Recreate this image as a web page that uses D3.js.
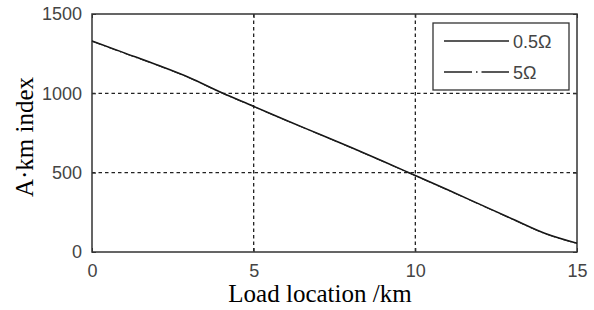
<!DOCTYPE html>
<html>
<head>
<meta charset="utf-8">
<script src="https://cdn.jsdelivr.net/npm/d3@7"></script>
<style>
  body { margin: 0; background: #fff; }
  svg { display: block; }
</style>
</head>
<body>
<div id="chart"></div>
<script>
// Load location (km) vs A·km index
const xs = [0, 1, 2, 3, 4, 5, 6, 7, 8, 9, 10, 11, 12, 13, 14, 15];
const seriesA = [1330, 1255, 1180, 1100, 1005, 918, 830, 745, 660, 572, 482, 392, 300, 208, 118, 55];
const seriesB = [1328, 1252, 1178, 1098, 1003, 916, 829, 744, 658, 570, 480, 390, 298, 206, 116, 53];
const xTicks = [0, 5, 10, 15];
const yTicks = [0, 500, 1000, 1500];
const legendLabels = ['0.5\u03A9', '5\u03A9'];

const width = 594, height = 310;
const margin = { top: 14, right: 17, bottom: 58, left: 92 };
const innerW = width - margin.left - margin.right;
const innerH = height - margin.top - margin.bottom;

const svg = d3.select('#chart').append('svg')
  .attr('width', width)
  .attr('height', height);

const g = svg.append('g').attr('transform', `translate(${margin.left},${margin.top})`);

const x = d3.scaleLinear().domain([0, 15]).range([0, innerW]);
const y = d3.scaleLinear().domain([0, 1500]).range([innerH, 0]);

// Grid lines
g.append('g').selectAll('line')
  .data(xTicks.filter(t => t > 0 && t < 15))
  .join('line')
  .attr('x1', d => x(d)).attr('x2', d => x(d))
  .attr('y1', 0).attr('y2', innerH)
  .attr('stroke', '#222').attr('stroke-width', 1.3)
  .attr('stroke-dasharray', '3.5,3');

g.append('g').selectAll('line')
  .data(yTicks.filter(t => t > 0 && t < 1500))
  .join('line')
  .attr('x1', 0).attr('x2', innerW)
  .attr('y1', d => y(d)).attr('y2', d => y(d))
  .attr('stroke', '#222').attr('stroke-width', 1.3)
  .attr('stroke-dasharray', '3.5,3');

// Axes
const fmt = d3.format('d');
const xAxis = g.append('g')
  .attr('transform', `translate(0,${innerH})`)
  .call(d3.axisBottom(x).tickValues(xTicks).tickFormat(fmt).tickSize(-4).tickPadding(12));
const yAxis = g.append('g')
  .call(d3.axisLeft(y).tickValues(yTicks).tickFormat(fmt).tickSize(-4).tickPadding(10));
// mirrored ticks on top and right
const xTop = g.append('g')
  .call(d3.axisTop(x).tickValues(xTicks).tickFormat('').tickSize(-4));
const yRight = g.append('g')
  .attr('transform', `translate(${innerW},0)`)
  .call(d3.axisRight(y).tickValues(yTicks).tickFormat('').tickSize(-4));

[xAxis, yAxis, xTop, yRight].forEach(a => {
  a.select('.domain').remove();
  a.selectAll('line').attr('stroke', '#333');
  a.selectAll('text')
    .attr('font-family', 'Liberation Sans, Arial, sans-serif')
    .attr('font-size', 18)
    .attr('fill', '#444');
});

// Frame
g.append('rect')
  .attr('width', innerW).attr('height', innerH)
  .attr('fill', 'none').attr('stroke', '#333').attr('stroke-width', 1.5);

// Lines
const line = d3.line().x((d, i) => x(xs[i])).y(d => y(d)).curve(d3.curveMonotoneX);

g.append('path').datum(seriesA)
  .attr('d', line)
  .attr('fill', 'none').attr('stroke', '#111').attr('stroke-width', 1.5);

g.append('path').datum(seriesB)
  .attr('d', line)
  .attr('fill', 'none').attr('stroke', '#222').attr('stroke-width', 1)
  .attr('stroke-dasharray', '10,3,1,3');

// Legend
const lg = g.append('g').attr('transform', `translate(${341},${9})`);
lg.append('rect')
  .attr('width', 136).attr('height', 67)
  .attr('fill', '#fff').attr('stroke', '#333').attr('stroke-width', 1.3);
const dashes = [null, '28,4,1.5,4'];
legendLabels.forEach((lab, i) => {
  const yy = 18 + i * 31;
  lg.append('line')
    .attr('x1', 11).attr('x2', 76)
    .attr('y1', yy).attr('y2', yy)
    .attr('stroke', '#222').attr('stroke-width', 1.3)
    .attr('stroke-dasharray', dashes[i]);
  lg.append('text')
    .attr('x', 80).attr('y', yy + 6.5)
    .attr('font-family', 'Liberation Sans, Arial, sans-serif')
    .attr('font-size', 18).attr('fill', '#444')
    .text(lab);
});

// Axis titles
svg.append('text')
  .attr('x', 320).attr('y', 302)
  .attr('text-anchor', 'middle')
  .attr('font-family', 'Liberation Serif, Times New Roman, serif')
  .attr('font-size', 25).attr('fill', '#000')
  .text('Load location /km');

svg.append('text')
  .attr('transform', `translate(33,${137}) rotate(-90)`)
  .attr('text-anchor', 'middle')
  .attr('font-family', 'Liberation Serif, Times New Roman, serif')
  .attr('font-size', 25).attr('fill', '#000')
  .text('A\u00B7km index');
</script>
</body>
</html>
